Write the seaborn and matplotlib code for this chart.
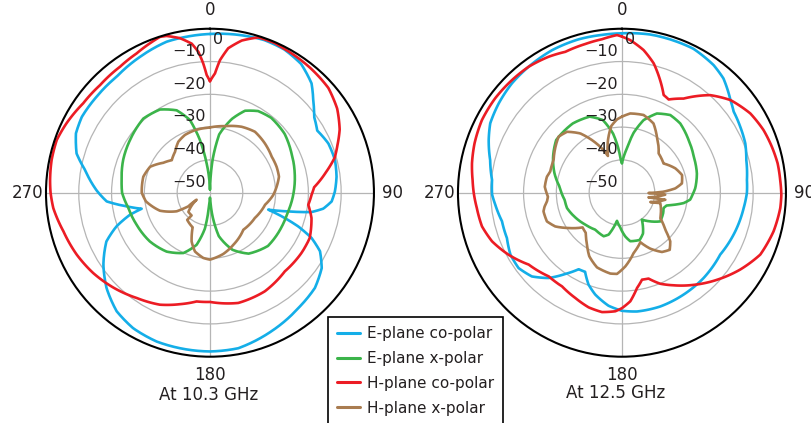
import numpy as np
import matplotlib
matplotlib.use("Agg")
import matplotlib.pyplot as plt
import seaborn as sns
from matplotlib.lines import Line2D

# ---- data: angle (deg, clockwise from top) and level (dB) ----
# 10.3 GHz
e_co_103_ang = [0, 10, 19.6, 27.5, 35.3, 42.9, 48.1, 53.9, 59.9, 67.4, 75.4, 82.8, 89.4, 94.1, 98, 100.8,
                103.4, 106.2, 108.7, 110.9, 114, 118, 124, 132.2, 142.5, 156, 169.7, 180, 189.7, 199.7,
                209.5, 218.2, 227.3, 236, 244.8, 250.2, 254.6, 256.8, 260.7, 265.2, 271, 280.3, 286.4,
                293.9, 300.6, 310.3, 321.2, 332.8, 344, 351.5, 360]
e_co_103_db = [-1.6, -1.1, -0.6, -0.8, -1.9, -4.5, -7.7, -10.7, -12.2, -10.9, -10.6, -11.1, -11.9, -12.8,
               -15.1, -18.5, -25.4, -31.5, -25.9, -21.2, -16.1, -12.0, -8.9, -6.8, -5.7, -3.8, -1.8, -1.6,
               -1.7, -1.8, -2.5, -4.0, -7.1, -10.8, -15.1, -19.7, -24.7, -28.6, -24.3, -18.4, -15.5, -11.3,
               -7.6, -5.3, -4.6, -4.7, -4.6, -3.4, -2.1, -1.9, -1.6]

e_x_103_ang = [0, 2, 4.5, 9, 16.6, 23.2, 30.5, 39.3, 51.7, 64.3, 77.2, 90, 105, 116, 132.6, 147.6, 158.5,
               168.5, 174, 177, 180, 183, 185, 188, 194.4, 203.8, 216.4, 231, 246.4, 259.4, 270, 278.2,
               290.7, 303.4, 318.1, 329, 338, 344.6, 349.2, 353.5, 357, 360]
e_x_103_db = [-49, -46, -40, -32, -26.5, -22.8, -21.1, -20.5, -21, -22.4, -23.5, -24.5, -25.6, -25.8, -26,
              -28, -31.3, -36.5, -43, -47, -48.5, -47, -44.3, -39, -33.6, -29.9, -27.7, -26.4, -25.6,
              -24.7, -23.2, -22.8, -21.7, -20.8, -19.6, -20.4, -22.9, -27, -33.6, -41, -46, -49]

h_co_103_ang = [0, 2.4, 4.3, 7.2, 11.8, 17.3, 23.5, 27, 39, 48.5, 56.5, 64, 69.5, 74.3, 80, 87, 91.1, 97,
                104, 114.4, 123.4, 136.4, 150.9, 165.6, 180, 187, 195.1, 204.1, 214.8, 225.6, 235.4,
                245.1, 255.2, 264.4, 270, 274.5, 281.7, 289, 295.8, 305.2, 314.4, 324.5, 332.2, 338.1,
                342.2, 344.5, 349, 353, 355.3, 357, 358.4, 360]
h_co_103_db = [-16, -13.6, -9.5, -5.6, -2.6, -0.4, -0.3, -0.6, -1.2, -1.8, -3.5, -6, -8.5, -10.5, -14.1,
               -18.2, -19.0, -19.8, -18.1, -16.6, -16.6, -16.9, -15.6, -15.3, -16.7, -16.6, -14.8, -12.6,
               -10.9, -8.7, -6.8, -5.2, -3.8, -2.0, -1.4, -1.1, -0.7, -0.6, -1.4, -2.7, -3.1, -2.8, -2.0,
               -0.9, -0.1, -0.4, -2.0, -4.2, -6.9, -10.5, -14.1, -16]

h_x_103_ang = [0, 12.7, 25.6, 36.4, 48.1, 59.7, 68.7, 76.9, 84.9, 92.1, 102.3, 119.4, 138, 155.8, 167.7,
               180, 185.8, 194.3, 200.6, 206.6, 220, 219, 228.3, 242.3, 237.8, 240.8, 250.2, 262.3, 270,
               283.5, 293.4, 302.7, 310.4, 319.5, 328.2, 336.6, 346.5, 357.1, 360]
h_x_103_db = [-30.1, -29.2, -27.7, -26.9, -27.5, -28.2, -28.2, -28.4, -29.6, -30.7, -32.8, -34.3, -34.8,
              -32.6, -30.9, -29.6, -30, -31.5, -34.1, -38.2, -39.2, -41.1, -41.2, -45.4, -42.2, -38.4,
              -33.8, -30.3, -29.2, -29.1, -30.1, -33.1, -34.7, -33.6, -31.7, -30.8, -30.4, -30.2, -30.1]

# 12.5 GHz
e_co_125_ang = [0, 10, 20, 26.4, 35.7, 41.6, 49.5, 54, 60.8, 68.2, 75.3, 84.2, 90, 97.2, 108.8, 122.2,
                136.3, 148.8, 161.4, 172.8, 180, 186.8, 194.7, 200, 205, 209.5, 214.9, 220.7, 227.1,
                233.9, 240.9, 248.5, 256.6, 264.6, 269.2, 275.6, 283.9, 291.6, 297.8, 305.9, 314.8,
                323.5, 333.9, 344.2, 352.8, 360]
e_co_125_db = [-1.4, -1.0, -1.0, -1.0, -2.1, -3.4, -6.5, -7.9, -8.7, -9.5, -10.8, -11.7, -11.9, -12.6,
               -13.5, -14.6, -14, -13.7, -13.4, -13.5, -14, -15.3, -17.9, -20.2, -23.4, -23.2, -19.8,
               -15.7, -12.5, -11, -11.1, -12.3, -12.4, -11.2, -10.4, -10.2, -8.6, -6.3, -4.6, -3.6,
               -2.7, -2.2, -1.6, -1.4, -1.5, -1.4]

e_x_125_ang = [0, 6.4, 11, 16.6, 23.8, 31.9, 40.1, 51.7, 63.3, 75.5, 86.4, 90, 95.8, 99.5, 105.7, 110.2,
               116, 126.8, 135.3, 143.5, 152.7, 159.5, 170.3, 175.6, 182.8, 190, 197.6, 202.8, 215.8,
               228.9, 242.1, 254.4, 262.7, 275.5, 286, 297.6, 308.7, 324.7, 337, 345.3, 351.4, 355,
               358, 360]
e_x_125_db = [-41, -36.4, -31.4, -26.9, -23.6, -22.1, -22.4, -24.1, -25.5, -26.4, -27.6, -28.2, -29.1,
              -30.9, -35.8, -36.5, -36, -35.4, -37.7, -39.8, -36, -34.6, -35, -36.6, -39.4, -41.3,
              -36.6, -35.6, -36.1, -35.2, -33.9, -32.6, -32.4, -30.9, -28.6, -26.3, -24.3, -24.1,
              -24.8, -27.1, -31.7, -36, -40, -41]

h_co_125_ang = [0, 3.1, 8.6, 13.8, 18.2, 23.1, 26.6, 33.2, 42.1, 49.5, 58.3, 66.1, 72.9, 79.3, 85.4,
                90.8, 95.5, 104.3, 114.1, 123, 132.5, 142.1, 150.9, 157.2, 162.8, 167, 171, 175.6, 180,
                183.2, 189.5, 196.2, 203.9, 212.6, 221.2, 232.4, 241.3, 249.5, 256.5, 264, 270, 274.8,
                281.1, 288.5, 297.4, 306.7, 315.7, 323.5, 331.7, 338.1, 346.1, 352.6, 358.2, 360]
h_co_125_db = [-2.4, -3.4, -6, -9.4, -13.3, -17.6, -18.2, -15.7, -9.9, -6.5, -4, -2.8, -2.2, -1.7, -1.6,
               -1.4, -1.5, -2.3, -3.8, -7, -10.7, -14.4, -17.7, -19.9, -22.6, -22.8, -20.6, -16.8,
               -14.8, -13.8, -13.1, -13.6, -14.9, -16.1, -16.1, -14.1, -10.6, -7.7, -6.1, -5.5, -4.8,
               -4.3, -3.4, -2.6, -1.9, -1.8, -2, -2.2, -2.9, -3.7, -3.3, -2.8, -1.9, -2.4]

h_x_125_ang = [0, 6, 15.6, 24.5, 32, 43, 54.9, 65.5, 73.6, 81.2, 85.4, 88.6, 90.7, 92.6, 99.9, 99.2,
               108.2, 105.1, 123.5, 130.5, 135.2, 140.1, 146, 153.2, 159.6, 169, 177.4, 183.5, 188.2,
               198.5, 207.2, 213.9, 221.8, 228.6, 236.5, 243.2, 249.1, 256.6, 259.7, 263.4, 266.9,
               274.4, 282, 286.3, 295.6, 311.5, 318, 324.9, 330.3, 335.7, 339.1, 345.1, 350.9, 356.1, 360]
h_x_125_db = [-26.8, -25.7, -25.4, -26.8, -29.9, -33.6, -34.5, -32.1, -30.9, -31.5, -33.7, -37.3, -41.9,
              -36.8, -41.8, -36.6, -40.9, -37.9, -36, -32.6, -29.1, -27.3, -28.2, -30.9, -33.9, -31.3,
              -27.5, -25.2, -25.1, -26, -28.2, -30.9, -33.5, -34, -30.5, -27.2, -25.5, -25.4, -26,
              -27, -27.4, -26.4, -26.6, -27.2, -26.9, -24.2, -25, -27.9, -31.5, -35.2, -38, -33.4,
              -29.4, -27.6, -26.8]

series_names = ["E-plane co-polar", "E-plane x-polar", "H-plane co-polar", "H-plane x-polar"]
series_colors = ["#14aee8", "#3bb44a", "#ec1c24", "#a97c50"]
ring_values = [-50, -40, -30, -20, -10]
angle_labels = ["0", "90", "180", "270"]
titles = ["At 10.3 GHz", "At 12.5 GHz"]

sns.set_style("white")
plt.rcParams["font.family"] = ["DejaVu Sans"]
text_color = "#231f20"

fig = plt.figure(figsize=(8.11, 4.23), dpi=100)
ax1 = fig.add_axes([0.0567, 0.1567, 0.4044, 0.7754], projection="polar")
ax2 = fig.add_axes([0.5647, 0.1567, 0.4044, 0.7754], projection="polar")

panels = [
    (ax1, [(e_co_103_ang, e_co_103_db), (e_x_103_ang, e_x_103_db),
           (h_co_103_ang, h_co_103_db), (h_x_103_ang, h_x_103_db)]),
    (ax2, [(e_co_125_ang, e_co_125_db), (e_x_125_ang, e_x_125_db),
           (h_co_125_ang, h_co_125_db), (h_x_125_ang, h_x_125_db)]),
]

for ax, curves in panels:
    ax.set_theta_zero_location("N")
    ax.set_theta_direction(-1)
    for (ang, db), color in zip(curves, series_colors):
        sns.lineplot(x=np.deg2rad(ang), y=np.array(db), ax=ax, sort=False, estimator=None,
                     color=color, lw=1.9, legend=False)
    # let the polar transform bend each segment along the arc
    for line in ax.lines:
        line.get_path()._interpolation_steps = 40
    ax.set_ylim(-50, 0)
    ax.set_yticks([-40, -30, -20, -10])
    ax.set_yticklabels([])
    ax.set_xticks(np.deg2rad([0, 90, 180, 270]))
    ax.set_xticklabels(angle_labels, fontsize=12, color=text_color)
    ax.tick_params(axis="x", pad=3)
    ax.grid(True, color="#b5b5b5", lw=0.9)
    ax.spines["polar"].set_color("black")
    ax.spines["polar"].set_linewidth(1.5)
    ax.set_xlabel("")
    ax.set_ylabel("")
    for v in ring_values:
        ax.annotate(str(v).replace("-", "\u2212"), xy=(0, v), xytext=(-3, 2),
                    textcoords="offset points", ha="right", va="bottom",
                    fontsize=11.5, color=text_color)
    ax.annotate("0", xy=(0, -3.2), xytext=(2, 0), textcoords="offset points",
                ha="left", va="center", fontsize=11.5, color=text_color)

fig.text(209 / 811, 1 - 395 / 423, titles[0], ha="center", va="center", fontsize=12, color=text_color)
fig.text(616 / 811, 1 - 393 / 423, titles[1], ha="center", va="center", fontsize=12, color=text_color)

handles = [Line2D([], [], color=c, lw=2.2) for c in series_colors]
leg = fig.legend(handles, series_names, loc="upper left", bbox_to_anchor=(328 / 811, 1 - 317 / 423),
                 frameon=True, fancybox=False, edgecolor="black", framealpha=1, fontsize=11,
                 handlelength=1.5, handletextpad=0.45, labelspacing=0.64, borderpad=0.6,
                 borderaxespad=0)
leg.get_frame().set_linewidth(1.2)
for t in leg.get_texts():
    t.set_color(text_color)

fig.savefig("out.png", dpi=100)
